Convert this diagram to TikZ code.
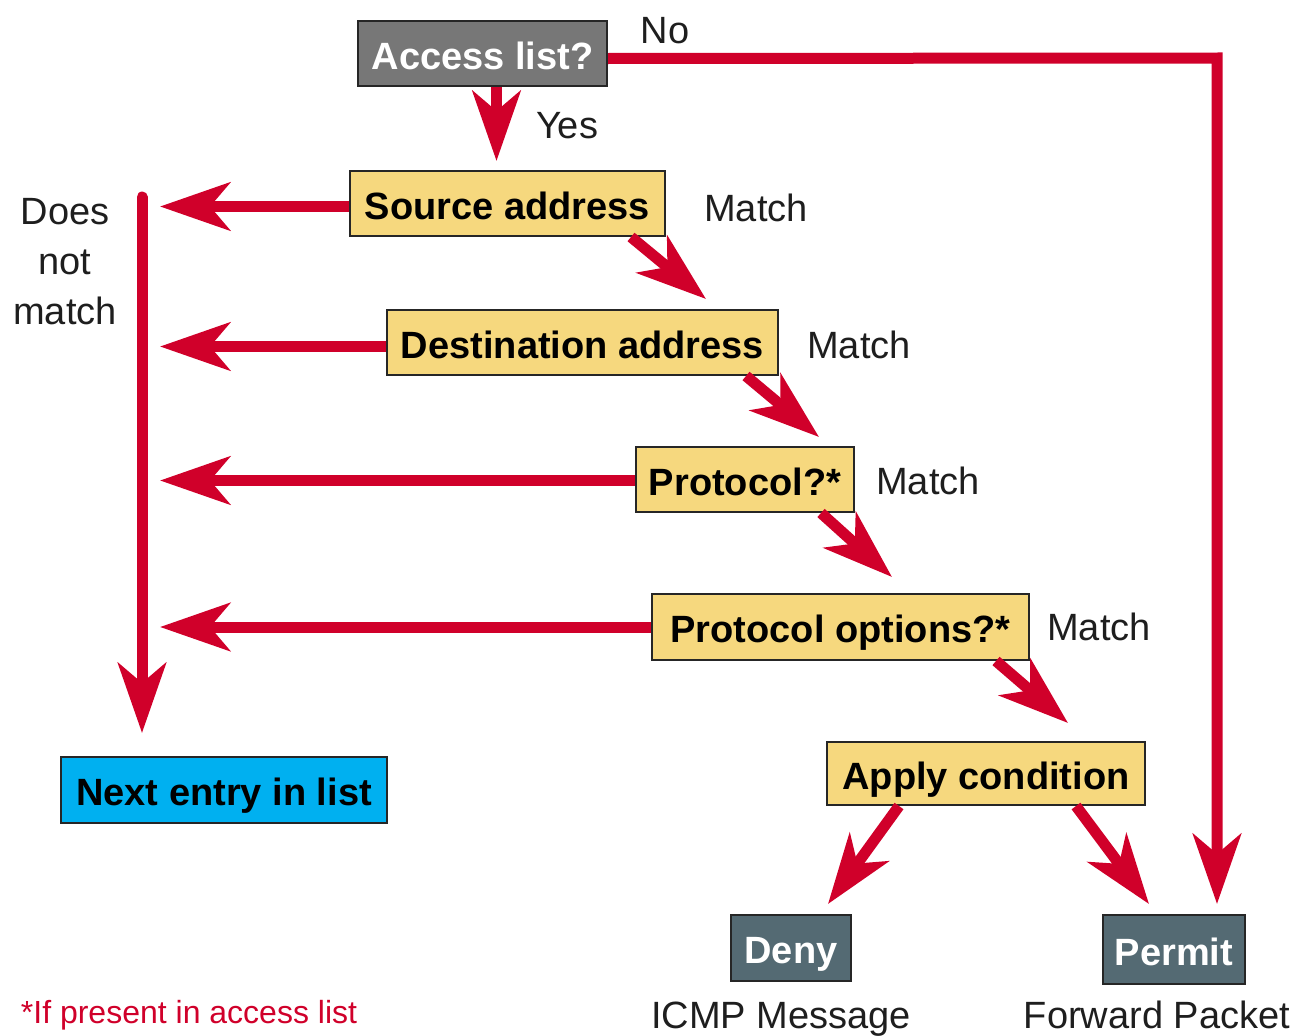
\documentclass[tikz,border=0pt]{standalone}
\usepackage{fontspec}
\setmainfont{Liberation Sans}
\usetikzlibrary{arrows.meta,calc}
\definecolor{flowred}{RGB}{208,0,42}
\definecolor{stepyellow}{RGB}{246,216,126}
\definecolor{gategray}{RGB}{119,119,119}
\definecolor{endslate}{RGB}{84,106,115}
\definecolor{nextblue}{RGB}{0,176,240}
\definecolor{inkgray}{RGB}{30,30,30}

\begin{document}
\begin{tikzpicture}[x=1pt,y=-1pt,
  box/.style={draw=black!85, line width=2pt, inner sep=0pt,
    font=\fontsize{38}{44}\selectfont\bfseries, text height=31pt, text depth=0pt},
  testbox/.style={box, fill=stepyellow, text=black},
  gatebox/.style={box, fill=gategray, text=white},
  endbox/.style={box, fill=endslate, text=white},
  nextbox/.style={box, fill=nextblue, text=black},
  lbl/.style={font=\fontsize{38}{44}\selectfont, text=inkgray, inner sep=0pt,
    text height=27pt, text depth=0pt},
  flow/.style={draw=flowred, line width=11pt,
    -{Stealth[length=70pt,width=48pt,inset=20pt]}},
]
\useasboundingbox (0,0) rectangle (1299,1036);

% decision boxes
\node[gatebox, minimum width=249pt, minimum height=65pt] (access) at (482.5,53.5) {Access list?};
\node[testbox, minimum width=315pt, minimum height=65pt] (src) at (507.5,203.5) {Source address};
\node[testbox, minimum width=391pt, minimum height=65pt] (dst) at (582.5,342.5) {Destination address};
\node[testbox, minimum width=218pt, minimum height=65pt] (proto) at (745,479.5) {Protocol?*};
\node[testbox, minimum width=377pt, minimum height=66pt] (opts) at (840.5,627) {Protocol options?*};
\node[testbox, minimum width=318pt, minimum height=63pt] (apply) at (986,773.5) {Apply condition};

% outcome boxes
\node[nextbox, minimum width=326pt, minimum height=66pt] (next) at (224,790) {Next entry in list};
\node[endbox, minimum width=120pt, minimum height=66pt] (deny) at (791,948) {Deny};
\node[endbox, minimum width=142pt, minimum height=69pt] (permit) at (1174,949.5) {Permit};

% labels
\node[lbl] (no) at (665,30) {No};
\node[lbl] (yes) at (567,125) {Yes};
\node[lbl] (m1) at (756,208) {Match};
\node[lbl] (m2) at (859,345) {Match};
\node[lbl] (m3) at (928,481) {Match};
\node[lbl] (m4) at (1099,627) {Match};
\node[font=\fontsize{38}{50}\selectfont, text=inkgray, inner sep=0pt, align=center]
  (dnm) at (65,262) {Does\\not\\match};
\node[lbl] (icmp) at (781,1015) {ICMP Message};
\node[lbl] (fwd) at (1157,1015) {Forward Packet};
\node[font=\fontsize{32}{38}\selectfont, text=flowred, inner sep=0pt,
  text height=23pt, text depth=0pt] (note) at (189,1012) {*If present in access list};

% helper points on the collecting line and the bypass line
\coordinate (ctop) at (142,197);
\coordinate (cbot) at (142,733);
\coordinate (ctip) at (160,0);
\coordinate (corner) at (1217,58);

% "No" bypass to Permit
\draw[flow] ($(access.east)+(0,5)$) -- (corner) -- ($(corner |- permit.north)+(0,-10)$);
% "Yes" into the first test
\draw[flow] ($(access.south)+(14,0)$) -- ($(access.south |- src.north)+(14,-9)$);

% "Does not match" branches
\draw[flow] ($(src.west)+(0,3)$) -- ($(src.west -| ctip)+(0,3)$);
\draw[flow] ($(dst.west)+(0,4)$) -- ($(dst.west -| ctip)+(0,4)$);
\draw[flow] ($(proto.west)+(0,1)$) -- ($(proto.west -| ctip)+(0,1)$);
\draw[flow] (opts.west) -- (opts.west -| ctip);
\draw[flow, line cap=round] (ctop) -- (cbot);

% "Match" chain
\draw[flow] ($(src.south east)+(-35,0)$) -- ($(dst.north east)+(-73,-10)$);
\draw[flow] ($(dst.south east)+(-33,0)$) -- ($(proto.north east)+(-36,-9)$);
\draw[flow] ($(proto.south east)+(-34,0)$) -- ($(opts.north west)+(241,-16)$);
\draw[flow] ($(opts.south east)+(-34,0)$) -- ($(apply.north east)+(-78,-18)$);

% outcomes of the condition
\draw[flow] ($(apply.south west)+(73,0)$) -- ($(deny.north)+(37,-10)$);
\draw[flow] ($(apply.south east)+(-70,0)$) -- ($(permit.north west)+(47,-10)$);
\end{tikzpicture}
\end{document}
